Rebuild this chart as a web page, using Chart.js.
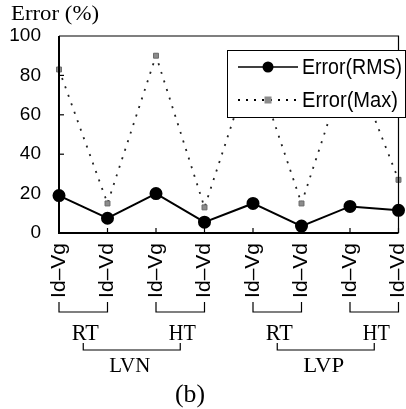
<!DOCTYPE html>
<html>
<head>
<meta charset="utf-8">
<script src="https://cdn.jsdelivr.net/npm/chart.js@4"></script>
<style>
  html, body { margin: 0; padding: 0; background: #fff; }
  canvas { display: block; }
</style>
</head>
<body>
<canvas id="chartErro" width="406" height="409"></canvas>
<script>
const categorias = ['Id–Vg', 'Id–Vd', 'Id–Vg', 'Id–Vd', 'Id–Vg', 'Id–Vd', 'Id–Vg', 'Id–Vd']
const erroRMS = [19, 7.5, 20, 5.5, 15, 3.5, 13.5, 11.5]
const erroMax = [83, 15, 90, 13, 88, 15, 90, 27]
const temperaturas = ['RT', 'HT', 'RT', 'HT']
const dispositivos = ['LVN', 'LVP']
const nomesSeries = ['Error(RMS)', 'Error(Max)']

const chartErro = document.getElementById('chartErro')

// texto esticado na horizontal (a fonte do original e mais larga)
function texto(ctx, t, x, y, fonte, largura) {
    ctx.save()
    ctx.font = fonte
    ctx.textAlign = 'center'
    ctx.textBaseline = 'middle'
    const w = ctx.measureText(t).width
    const sx = largura ? largura / w : 1
    ctx.translate(x, y)
    ctx.scale(sx, 1)
    ctx.fillText(t, 0, 0)
    ctx.restore()
}

const extras = {
    id: 'extras',
    afterDatasetsDraw(chart) {
        const ctx = chart.ctx
        const a = chart.chartArea
        const x = chart.scales.x
        const y = chart.scales.y
        ctx.save()
        ctx.strokeStyle = '#000'
        ctx.fillStyle = '#000'

        // moldura
        ctx.lineWidth = 1.2
        ctx.beginPath()
        ctx.moveTo(a.left, a.top); ctx.lineTo(a.right, a.top); ctx.lineTo(a.right, a.bottom)
        ctx.stroke()
        ctx.lineWidth = 2
        ctx.beginPath()
        ctx.moveTo(a.left, a.top); ctx.lineTo(a.left, a.bottom); ctx.lineTo(a.right, a.bottom)
        ctx.stroke()

        // tracinhos internos
        ctx.lineWidth = 1.2
        y.ticks.forEach(t => {
            if (t.value > 0 && t.value < 100) {
                const py = y.getPixelForValue(t.value)
                ctx.beginPath(); ctx.moveTo(a.left, py); ctx.lineTo(a.left + 5, py); ctx.stroke()
            }
        })
        categorias.forEach((c, i) => {
            const px = x.getPixelForValue(i)
            ctx.beginPath(); ctx.moveTo(px, a.bottom); ctx.lineTo(px, a.bottom - 5); ctx.stroke()
        })

        // legenda
        const lx = 227, ly = 50, lw = 178, lh = 67
        ctx.fillStyle = '#fff'
        ctx.fillRect(lx, ly, lw, lh)
        ctx.lineWidth = 1
        ctx.strokeStyle = '#000'
        ctx.strokeRect(lx + 0.5, ly + 0.5, lw, lh)
        const d1 = chart.data.datasets[1]
        ctx.lineWidth = 1.5
        ctx.beginPath(); ctx.moveTo(238, 67); ctx.lineTo(298, 67); ctx.stroke()
        ctx.fillStyle = '#000'
        ctx.beginPath(); ctx.arc(268, 67, 5.5, 0, Math.PI * 2); ctx.fill()
        ctx.setLineDash([2, 6])
        ctx.lineWidth = 2
        ctx.beginPath(); ctx.moveTo(238, 100); ctx.lineTo(298, 100); ctx.stroke()
        ctx.setLineDash([])
        ctx.fillStyle = d1.pointBackgroundColor
        ctx.fillRect(264.5, 96.5, 7, 7)
        ctx.fillStyle = '#000'
        texto(ctx, nomesSeries[0], 352, 68, '22px "Liberation Sans"', 100)
        texto(ctx, nomesSeries[1], 350, 101, '22px "Liberation Sans"', 96)

        // colchetes RT / HT
        ctx.lineWidth = 1.2
        const meios = []
        temperaturas.forEach((t, g) => {
            const x1 = x.getPixelForValue(2 * g), x2 = x.getPixelForValue(2 * g + 1)
            ctx.beginPath()
            ctx.moveTo(x1, 302); ctx.lineTo(x1, 312); ctx.lineTo(x2, 312); ctx.lineTo(x2, 302)
            ctx.stroke()
            const m = (x1 + x2) / 2
            meios.push(m)
            texto(ctx, t, m + 2, 334, '23px "Liberation Serif"', 27)
        })
        // colchetes LVN / LVP
        dispositivos.forEach((d, k) => {
            const c1 = meios[2 * k], c2 = meios[2 * k + 1]
            ctx.beginPath()
            ctx.moveTo(c1, 343); ctx.lineTo(c1, 350); ctx.lineTo(c2, 350); ctx.lineTo(c2, 343)
            ctx.stroke()
            texto(ctx, d, (c1 + c2) / 2 - 2, 366, '22px "Liberation Serif"', 41)
        })

        texto(ctx, '(b)', 190, 395, '26px "Liberation Serif"', 30)
        texto(ctx, 'Error (%)', 55, 15, '20px "Liberation Serif"', 88)
        ctx.restore()
    }
}

new Chart(chartErro, {
    type: 'line',
    data: {
        labels: categorias,
        datasets: [{
            label: nomesSeries[0],
            data: erroRMS,
            borderColor: '#000',
            borderWidth: 2,
            pointRadius: 5.5,
            pointBackgroundColor: '#000',
            pointBorderColor: '#000',
            clip: false
        }, {
            label: nomesSeries[1],
            data: erroMax,
            borderColor: '#222',
            borderWidth: 1.8,
            borderDash: [2, 7],
            pointStyle: 'rect',
            pointRadius: 3.5,
            pointBackgroundColor: '#8c8c8c',
            pointBorderColor: '#6a6a6a',
            pointBorderWidth: 1,
            clip: false
        }]
    },
    options: {
        responsive: false,
        animation: false,
        devicePixelRatio: 1,
        layout: { padding: { top: 36, right: 2, left: 0, bottom: 0 } },
        plugins: {
            legend: { display: false },
            tooltip: { enabled: false }
        },
        scales: {
            x: {
                offset: false,
                grid: { display: false, drawTicks: false },
                border: { display: false },
                ticks: {
                    autoSkip: false,
                    minRotation: 90,
                    maxRotation: 90,
                    padding: 10,
                    color: '#000',
                    font: { family: 'Liberation Sans', size: 21 }
                },
                afterFit(s) {
                    s.height = 409 - 233
                    s.paddingLeft = 0
                    s.paddingRight = 0
                }
            },
            y: {
                min: 0,
                max: 100,
                grid: { display: false, drawTicks: false },
                border: { display: false },
                ticks: {
                    stepSize: 20,
                    padding: 18,
                    color: '#000',
                    font: { family: 'Liberation Sans', size: 19 }
                },
                afterFit(s) {
                    s.width = 59
                }
            }
        }
    },
    plugins: [extras]
})
</script>
</body>
</html>
